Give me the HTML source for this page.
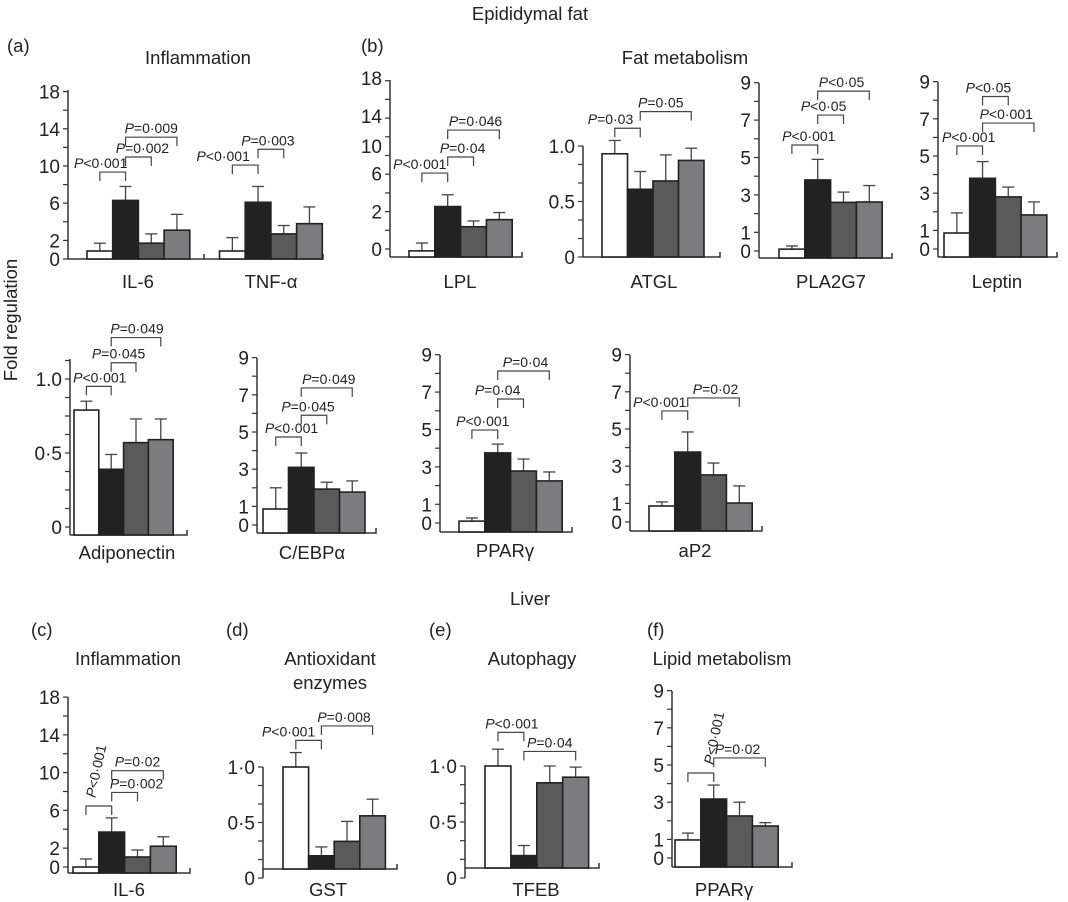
<!DOCTYPE html>
<html><head><meta charset="utf-8">
<style>
html,body{margin:0;padding:0;background:#fff;}
svg{display:block;font-family:"Liberation Sans",sans-serif;}
</style></head>
<body>
<svg id="fig" width="1068" height="902" viewBox="0 0 1068 902" xmlns="http://www.w3.org/2000/svg">
<g fill="#222" font-size="18.5">
<text x="530" y="20" text-anchor="middle">Epididymal fat</text>
<text x="7" y="52">(a)</text>
<text x="198" y="64" text-anchor="middle">Inflammation</text>
<text x="361" y="52">(b)</text>
<text x="685" y="64" text-anchor="middle">Fat metabolism</text>
<text transform="translate(17,320) rotate(-90)" text-anchor="middle">Fold regulation</text>
<text x="530" y="605" text-anchor="middle">Liver</text>
<text x="31" y="636">(c)</text>
<text x="128" y="665" text-anchor="middle">Inflammation</text>
<text x="226" y="636">(d)</text>
<text x="330" y="665" text-anchor="middle">Antioxidant</text>
<text x="330" y="689" text-anchor="middle">enzymes</text>
<text x="429" y="636">(e)</text>
<text x="532" y="665" text-anchor="middle">Autophagy</text>
<text x="647" y="636">(f)</text>
<text x="722" y="665" text-anchor="middle">Lipid metabolism</text>
</g>
<g id="plots"></g>
</svg>
<script>
// ---- data: bar values (fold regulation) and error bars, order: white, black, dark grey, grey
const il6FatVals = [0.86, 6.3, 1.7, 3.1];
const il6FatErr  = [1.7, 7.8, 2.7, 4.8];
const tnfVals = [0.86, 6.1, 2.7, 3.8];
const tnfErr  = [2.3, 7.8, 3.6, 5.6];
const lplVals = [-0.1, 2.27, 1.19, 1.57];
const lplErr  = [0.32, 2.9, 1.5, 1.95];
const atglVals = [0.93, 0.61, 0.685, 0.87];
const atglErr  = [1.05, 0.77, 0.92, 0.98];
const pla2g7Vals = [0.1, 3.8, 2.6, 2.62];
const pla2g7Err  = [0.27, 4.9, 3.15, 3.5];
const leptinVals = [0.86, 3.8, 2.8, 1.83];
const leptinErr  = [1.94, 4.7, 3.33, 2.53];
const adipoVals = [0.79, 0.39, 0.57, 0.59];
const adipoErr  = [0.85, 0.49, 0.73, 0.73];
const cebpVals = [0.86, 3.1, 1.93, 1.77];
const cebpErr  = [2.0, 3.87, 2.3, 2.37];
const pparFatVals = [0.1, 3.75, 2.78, 2.25];
const pparFatErr  = [0.27, 4.22, 3.42, 2.73];
const ap2Vals = [0.86, 3.76, 2.53, 1.02];
const ap2Err  = [1.08, 4.84, 3.17, 1.94];
const il6LivVals = [0.0, 3.7, 1.06, 2.2];
const il6LivErr  = [0.85, 5.2, 1.8, 3.2];
const gstVals = [1.0, 0.2, 0.33, 0.56];
const gstErr  = [1.13, 0.28, 0.51, 0.71];
const tfebVals = [1.0, 0.2, 0.85, 0.9];
const tfebErr  = [1.15, 0.29, 1.0, 0.99];
const pparLivVals = [0.97, 3.17, 2.26, 1.72];
const pparLivErr  = [1.34, 3.92, 3.0, 1.9];
// tick labels
const ticks18 = ["18","14","10","6","2","0"];
const ticks18Vals = [18,14,10,6,2,0];
const lplTickVals = [9.15,7.1,5.5,4.05,2.0,0];
const ticks9 = ["9","7","5","3","1","0"];
const ticks9Vals = [9,7,5,3,1,0];
const ticksAtgl = ["1.0","0.5","0"];
const ticksAdipo = ["1.0","0·5","0"];
const ticksDot = ["1·0","0·5","0"];
const ticks1Vals = [1,0.5,0];
// significance brackets: [fromBar, toBar, level(value), text, dx, rotated]
const il6FatSig = [[0,1,9.35,"<0·001",-12,0],[1,2,10.97,"=0·002",4,0],[1,3,13.1,"=0·009",0,0]];
const tnfSig = [[0,1,10.1,"<0·001",-22,0],[1,2,11.8,"=0·003",-3,0]];
const lplSig = [[0,1,4.06,"<0·001",-15,0],[1,2,4.92,"=0·04",2,0],[1,3,6.36,"=0·046",2,0]];
const atglSig = [[0,1,1.16,"=0·03",-17,0],[1,3,1.31,"=0·05",-5,0]];
const pla2g7Sig = [[0,1,5.67,"<0·001",4,0],[1,2,7.27,"<0·05",-7,0],[1,3,8.55,"<0·05",-2,0]];
const leptinSig = [[0,1,5.54,"<0·001",-1,0],[1,2,8.2,"<0·05",-7,0],[1,3,6.77,"<0·001",-2,0]];
const adipoSig = [[0,1,0.95,"<0·001",1,0],[1,2,1.11,"=0·045",-5,0],[1,3,1.28,"=0·049",1,0]];
const cebpSig = [[0,1,4.73,"<0·001",3,0],[1,2,5.9,"=0·045",-6,0],[1,3,7.37,"=0·049",2,0]];
const pparFatSig = [[0,1,4.97,"<0·001",-2,0],[1,2,6.63,"=0·04",-13,0],[1,3,8.13,"=0·04",2,0]];
const ap2Sig = [[0,1,5.97,"<0·001",-15,0],[1,3,6.67,"=0·02",2,0]];
const il6LivSig = [[0,1,6.46,"<0·001",-2,1],[1,2,7.9,"=0·002",12,0],[1,3,10.2,"=0·02",0,0]];
const gstSig = [[0,1,1.24,"<0·001",-20,0],[1,3,1.37,"=0·008",-3,0]];
const tfebSig = [[0,1,1.3,"<0·001",1,0],[1,3,1.13,"=0·04",0,0]];
const pparLivSig = [[0,1,4.57,"<0·001",14,1],[1,3,5.38,"=0·02",-2,0]];

function range(a,b,s){const r=[];for(let v=a;v<=b+1e-9;v+=s)r.push(v);return r;}
const sixths=range(0,6,1).map(k=>k/6), eighths=range(0,9,1).map(k=>k/8);

const panels=[
 {id:"inflammation-fat",ax:68,top:90,bot:259,xy:259,xe:323,y0:259,ppu:9.3,ticks:range(0,18,2),tl:ticks18,tv:ticks18Vals,brk:204,
  groups:[{name:"il-6",label:"IL-6",lx:138,ly:288,x0:87,w:25.7,vals:il6FatVals,errs:il6FatErr,sig:il6FatSig},
          {name:"tnf-alpha",label:"TNF-α",lx:271,ly:288,x0:219.5,w:25.7,vals:tnfVals,errs:tnfErr,sig:tnfSig}]},
 {id:"lpl",ax:390,top:80,bot:257,xy:257,xe:522,y0:249,ppu:18.7,ticks:range(0,9,1),tl:ticks18,tv:lplTickVals,
  groups:[{name:"lpl",label:"LPL",lx:460,ly:288,x0:409,w:25.8,vals:lplVals,errs:lplErr,sig:lplSig}]},
 {id:"atgl",ax:583,top:146,bot:257,xy:257,xe:720,y0:257,ppu:111,ticks:sixths,tl:ticksAtgl,tv:ticks1Vals,
  groups:[{name:"atgl",label:"ATGL",lx:654,ly:288,x0:602,w:25.5,vals:atglVals,errs:atglErr,sig:atglSig}]},
 {id:"pla2g7",ax:759,top:83,bot:258,xy:258,xe:892,y0:251,ppu:18.7,ticks:range(0,9,1),tl:ticks9,tv:ticks9Vals,
  groups:[{name:"pla2g7",label:"PLA2G7",lx:831,ly:288,x0:779,w:25.8,vals:pla2g7Vals,errs:pla2g7Err,sig:pla2g7Sig}]},
 {id:"leptin",ax:938,top:82,bot:257,xy:257,xe:1057,y0:249,ppu:18.6,ticks:range(0,9,1),tl:ticks9,tv:ticks9Vals,
  groups:[{name:"leptin",label:"Leptin",lx:997,ly:288,x0:944,w:25.7,vals:leptinVals,errs:leptinErr,sig:leptinSig}]},
 {id:"adiponectin",ax:70,top:359,bot:535,xy:535,xe:187,y0:527,ppu:148,ticks:eighths,tl:ticksAdipo,tv:ticks1Vals,
  groups:[{name:"adiponectin",label:"Adiponectin",lx:127,ly:559,x0:74,w:24.8,vals:adipoVals,errs:adipoErr,sig:adipoSig}]},
 {id:"cebp",ax:257,top:358,bot:533,xy:533,xe:376,y0:525,ppu:18.6,ticks:range(0,9,1),tl:ticks9,tv:ticks9Vals,
  groups:[{name:"cebp-alpha",label:"C/EBPα",lx:312,ly:559,x0:263,w:25.5,vals:cebpVals,errs:cebpErr,sig:cebpSig}]},
 {id:"ppar-fat",ax:440,top:355,bot:532,xy:532,xe:572,y0:523,ppu:18.7,ticks:range(0,9,1),tl:ticks9,tv:ticks9Vals,
  groups:[{name:"ppar-gamma-fat",label:"PPARγ",lx:505,ly:557,x0:459,w:25.8,vals:pparFatVals,errs:pparFatErr,sig:pparFatSig}]},
 {id:"ap2",ax:630,top:355,bot:531,xy:531,xe:762,y0:522,ppu:18.6,ticks:range(0,9,1),tl:ticks9,tv:ticks9Vals,
  groups:[{name:"ap2",label:"aP2",lx:695,ly:557,x0:649,w:25.8,vals:ap2Vals,errs:ap2Err,sig:ap2Sig}]},
 {id:"inflammation-liver",ax:68,top:697,bot:873,xy:873,xe:190,y0:867,ppu:9.44,ticks:range(0,18,2),tl:ticks18,tv:ticks18Vals,
  groups:[{name:"il-6-liver",label:"IL-6",lx:129,ly:896,x0:73,w:25.8,vals:il6LivVals,errs:il6LivErr,sig:il6LivSig}]},
 {id:"gst",ax:263,top:767,bot:878,xy:869,xe:397,y0:878,ppu:111,ticks:sixths,tl:ticksDot,tv:ticks1Vals,
  groups:[{name:"gst",label:"GST",lx:328,ly:896,x0:283,w:25.6,vals:gstVals,errs:gstErr,sig:gstSig}]},
 {id:"tfeb",ax:465,top:766,bot:878,xy:868,xe:599,y0:878,ppu:112,ticks:sixths,tl:ticksDot,tv:ticks1Vals,
  groups:[{name:"tfeb",label:"TFEB",lx:536,ly:896,x0:485,w:25.9,vals:tfebVals,errs:tfebErr,sig:tfebSig}]},
 {id:"ppar-liver",ax:672,top:691,bot:867,xy:867,xe:792,y0:858,ppu:18.6,ticks:range(0,9,1),tl:ticks9,tv:ticks9Vals,
  groups:[{name:"ppar-gamma-liver",label:"PPARγ",lx:724,ly:896,x0:675,w:25.8,vals:pparLivVals,errs:pparLivErr,sig:pparLivSig}]}
];
const fills=["#ffffff","#222222","#5a5a5a","#7c7c7e"];
const NS="http://www.w3.org/2000/svg";
const root=document.getElementById("plots");
function mk(tag,attrs,parent){const e=document.createElementNS(NS,tag);for(const k in attrs)e.setAttribute(k,attrs[k]);parent.appendChild(e);return e;}

panels.forEach(p=>{
  const y=v=>p.y0-v*p.ppu;
  const g=mk("g",{},root);
  
  
  const yAxis=mk("line",{x1:p.ax,x2:p.ax,y1:p.top,y2:p.bot,stroke:"#333","stroke-width":1.5},g);
  
  
  const xAxis=mk("path",{d:`M${p.ax},${p.xy}H${p.xe}V${p.xy-5}`,stroke:"#333","stroke-width":1.5,fill:"none"},g);
  
  
  if(p.brk){const b=mk("line",{x1:p.brk,x2:p.brk,y1:p.xy,y2:p.xy-5,stroke:"#333","stroke-width":1.5},g);
    
    }
  p.ticks.forEach(v=>{const t=mk("line",{x1:p.ax-5,x2:p.ax,y1:y(v),y2:y(v),stroke:"#333","stroke-width":1.2},g);
    
    });
  p.tl.forEach((s,i)=>{const t=mk("text",{x:p.ax-8,y:y(p.tv[i])+7,"text-anchor":"end","font-size":19,fill:"#222"},g);
    t.textContent=s;
    
    });
  p.groups.forEach(gr=>{
    const cx=i=>gr.x0+gr.w*(i+0.5);
    gr.vals.forEach((v,i)=>{
      const top=Math.min(y(v),p.xy-1);
      const e=mk("line",{x1:cx(i),x2:cx(i),y1:top,y2:y(gr.errs[i]),stroke:"#444","stroke-width":1.3},g);
      
      
      const c=mk("line",{x1:cx(i)-6,x2:cx(i)+6,y1:y(gr.errs[i]),y2:y(gr.errs[i]),stroke:"#444","stroke-width":1.3},g);
      
      
    });
    gr.vals.forEach((v,i)=>{
      const top=Math.min(y(v),p.xy-1);
      const r=mk("rect",{x:gr.x0+gr.w*i,y:top,width:gr.w,height:p.xy-top,fill:fills[i],stroke:"#222","stroke-width":1.6},g);
      
      
    });
    gr.sig.forEach(s=>{
      const xa=cx(s[0]),xb=cx(s[1]),yy=y(s[2]);
      const b=mk("path",{d:`M${xa},${yy+9}V${yy}H${xb}V${yy+9}`,stroke:"#444","stroke-width":1.2,fill:"none"},g);
      
      
      const tx=(xa+xb)/2+s[4];
      let t;
      if(s[5]){t=mk("text",{x:0,y:0,"text-anchor":"middle","font-size":14,fill:"#222",transform:`translate(${tx+4},${yy-34}) rotate(-78)`},g);}
      else{t=mk("text",{x:tx,y:yy-4,"text-anchor":"middle","font-size":14,fill:"#222"},g);}
      const ts=mk("tspan",{"font-style":"italic"},t);ts.textContent="P";
      t.appendChild(document.createTextNode(s[3]));
      
      
    });
    const l=mk("text",{x:gr.lx,y:gr.ly,"text-anchor":"middle","font-size":18.5,fill:"#222"},g);
    l.textContent=gr.label;
    
    
  });
});
</script>
</body></html>
